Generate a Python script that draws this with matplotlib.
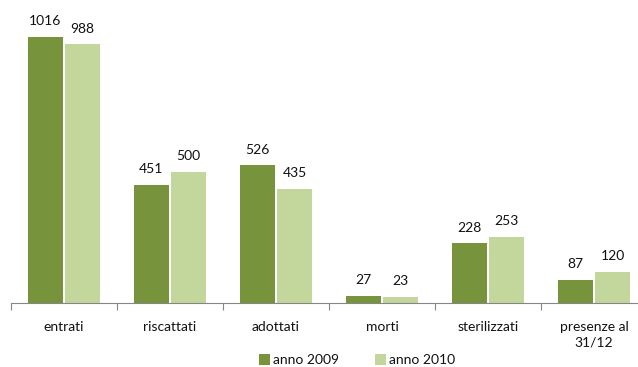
import numpy as np
import matplotlib.pyplot as plt

categorie = ["entrati", "riscattati", "adottati", "morti", "sterilizzati", "presenze al\n31/12"]
anno_2009 = [1016, 451, 526, 27, 228, 87]
anno_2010 = [988, 500, 435, 23, 253, 120]

col_2009 = "#77933C"
col_2010 = "#C3D69B"

plt.rcParams['font.family'] = ['Lato', 'DejaVu Sans']

fig = plt.figure(figsize=(6.38, 3.67), dpi=100)
ax = fig.add_axes([11 / 638, 64 / 367, 636 / 638, 288 / 367])

x = np.arange(len(categorie))
w = 0.33
off = 0.175
b1 = ax.bar(x - off, anno_2009, w, color=col_2009, label="anno 2009")
b2 = ax.bar(x + off, anno_2010, w, color=col_2010, label="anno 2010")

for bars in (b1, b2):
    for r in bars:
        ax.annotate(str(int(r.get_height())), (r.get_x() + r.get_width() / 2, r.get_height()),
                    xytext=(0, 7), textcoords="offset points", ha="center", va="bottom",
                    fontsize=10, color="#111111")

ax.set_xlim(-0.5, 5.5)
ax.set_ylim(0, 1100)

# tacche tra le categorie, etichette al centro
ax.set_xticks(np.arange(-0.5, 6, 1))
ax.set_xticklabels([])
ax.tick_params(axis="x", which="major", length=5, color="#868686", direction="out")
ax.set_xticks(x, minor=True)
ax.set_xticklabels(categorie, minor=True, fontsize=10, color="#111111", linespacing=1.3)
ax.tick_params(axis="x", which="minor", length=0, pad=13)

ax.set_yticks([])
for s in ("top", "right", "left"):
    ax.spines[s].set_visible(False)
ax.spines["bottom"].set_color("#868686")

fig.legend(loc="center", bbox_to_anchor=(357 / 638, 1 - 360 / 367), ncol=2, frameon=False,
           fontsize=10, handlelength=0.8, handleheight=0.8, handletextpad=0.2,
           columnspacing=2.6, borderpad=0, labelcolor="#111111")

fig.savefig("out.png", dpi=100)
